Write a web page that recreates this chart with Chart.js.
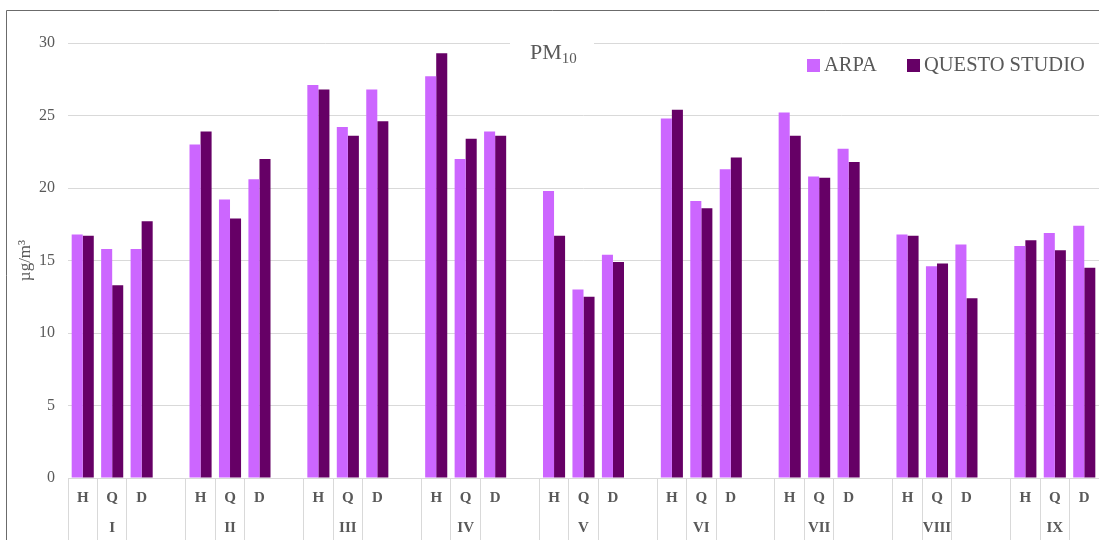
<!DOCTYPE html>
<html>
<head>
<meta charset="utf-8">
<style>
  html, body { margin: 0; padding: 0; background: #fff; }
  canvas { display: block; }
</style>
<script src="https://cdn.jsdelivr.net/npm/chart.js@4.4.1/dist/chart.umd.min.js"></script>
</head>
<body>
<canvas id="pmChart" width="1099" height="540"></canvas>
<script>
const groups = ["I", "II", "III", "IV", "V", "VI", "VII", "VIII", "IX"];
const subCats = ["H", "Q", "D"];
const seriesNames = ["ARPA", "QUESTO STUDIO"];

// values per group: H, Q, D
const arpa = [
  16.8, 15.8, 15.8,
  23.0, 19.2, 20.6,
  27.1, 24.2, 26.8,
  27.7, 22.0, 23.9,
  19.8, 13.0, 15.4,
  24.8, 19.1, 21.3,
  25.2, 20.8, 22.7,
  16.8, 14.6, 16.1,
  16.0, 16.9, 17.4,
];
const questo = [
  16.7, 13.3, 17.7,
  23.9, 17.9, 22.0,
  26.8, 23.6, 24.6,
  29.3, 23.4, 23.6,
  16.7, 12.5, 14.9,
  25.4, 18.6, 22.1,
  23.6, 20.7, 21.8,
  16.7, 14.8, 12.4,
  16.4, 15.7, 14.5,
];

const yTicks = [0, 5, 10, 15, 20, 25, 30];

// build the category axis: H Q D plus an empty spacer slot between groups
const labels = [];
const arpaData = [];
const questoData = [];
groups.forEach((g, gi) => {
  subCats.forEach((c, ci) => {
    labels.push([c, ci === 1 ? g : ""]);
    arpaData.push(arpa[gi * 3 + ci]);
    questoData.push(questo[gi * 3 + ci]);
  });
  if (gi < groups.length - 1) {
    labels.push(["", ""]);
    arpaData.push(null);
    questoData.push(null);
  }
});

const textColor = "#595959";
const gridColor = "#d9d9d9";

const decor = {
  id: "decor",
  beforeDraw(chart) {
    const c = chart.ctx;
    c.save();
    c.fillStyle = "#fff";
    c.fillRect(0, 0, chart.width, chart.height);
    c.strokeStyle = "#6b6b6b";
    c.lineWidth = 1;
    c.beginPath();
    c.moveTo(6.5, chart.height);
    c.lineTo(6.5, 10.5);
    c.lineTo(chart.width, 10.5);
    c.stroke();
    c.restore();
  },
  afterDraw(chart) {
    const c = chart.ctx;
    c.save();
    // title PM10 with white box over the top gridline
    c.fillStyle = "#fff";
    c.fillRect(510, 36, 84, 26);
    c.fillStyle = textColor;
    c.textBaseline = "alphabetic";
    c.font = "22px 'Liberation Serif'";
    c.fillText("PM", 530, 59);
    const w = c.measureText("PM").width;
    c.font = "15px 'Liberation Serif'";
    c.fillText("10", 530 + w, 63);

    // legend
    const legendX = [807, 907];
    chart.data.datasets.forEach((ds, i) => {
      const x = legendX[i];
      c.fillStyle = ds.backgroundColor;
      c.fillRect(x, 59, 13, 13);
      c.fillStyle = textColor;
      c.font = "20.5px 'Liberation Serif'";
      c.textBaseline = "middle";
      c.fillText(ds.label, x + 17, 66);
    });
    c.restore();
  },
};

const ctx = document.getElementById("pmChart");

const pmChart = new Chart(ctx, {
  type: "bar",
  data: {
    labels: labels,
    datasets: [
      {
        label: seriesNames[0],
        data: arpaData,
        backgroundColor: "#cc66ff",
        categoryPercentage: 0.75,
        barPercentage: 1.0,
      },
      {
        label: seriesNames[1],
        data: questoData,
        backgroundColor: "#660066",
        categoryPercentage: 0.75,
        barPercentage: 1.0,
      },
    ],
  },
  options: {
    responsive: false,
    animation: false,
    devicePixelRatio: 1,
    layout: {
      padding: { top: 43, left: 0, right: 0, bottom: 0 },
    },
    scales: {
      x: {
        grid: {
          drawOnChartArea: false,
          drawTicks: true,
          tickLength: 62,
          color: (c) => (c.index % 4 === 3 ? "rgba(0,0,0,0)" : gridColor),
        },
        border: { display: true, color: gridColor },
        ticks: {
          autoSkip: false,
          maxRotation: 0,
          minRotation: 0,
          padding: -57,
          color: textColor,
          font: { family: "'Liberation Serif'", size: 15, weight: "bold", lineHeight: 2 },
        },
        afterFit: (scale) => {
          scale.height = 62;
        },
      },
      y: {
        min: 0,
        max: 30,
        afterBuildTicks: (scale) => {
          scale.ticks = yTicks.map((v) => ({ value: v }));
        },
        grid: { color: gridColor, drawTicks: false },
        border: { display: false },
        ticks: {
          padding: 13,
          color: textColor,
          font: { family: "'Liberation Serif'", size: 16 },
        },
        title: {
          display: true,
          text: "µg/m³",
          color: textColor,
          font: { family: "'Liberation Serif'", size: 17 },
          padding: { top: 15, bottom: 0 },
        },
        afterFit: (scale) => {
          scale.width = 68;
        },
      },
    },
    plugins: {
      legend: { display: false },
      tooltip: { enabled: false },
    },
  },
  plugins: [decor],
});
</script>
</body>
</html>
